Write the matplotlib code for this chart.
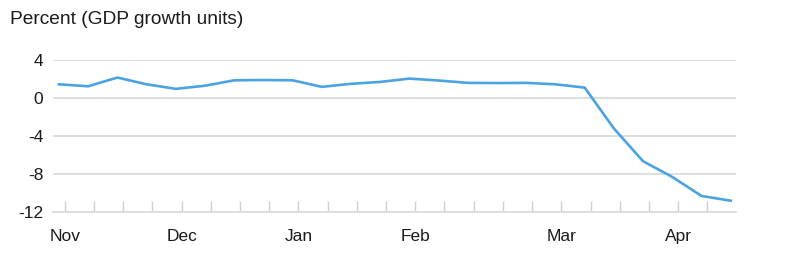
import numpy as np
import matplotlib.pyplot as plt

plt.rcParams['font.family'] = ['Liberation Sans', 'DejaVu Sans']

# weekly values (percent, GDP growth units), Nov through mid-April
semanas = np.arange(24)
valores = [1.45, 1.24, 2.16, 1.45, 0.97, 1.3, 1.87, 1.9, 1.87, 1.18, 1.5, 1.7,
           2.05, 1.85, 1.6, 1.58, 1.6, 1.45, 1.1, -3.2, -6.65, -8.3, -10.3, -10.8]

meses = ['Nov', 'Dec', 'Jan', 'Feb', 'Mar', 'Apr']
pos_meses = [0, 4, 8, 12, 17, 21]
y_ticks = [4, 0, -4, -8, -12]

fig = plt.figure(figsize=(7.86, 2.73), dpi=100)
ax = fig.add_axes([0.0674, 0.223, 0.8686, 0.557])

ax.plot(semanas, valores, color='#4ba3e3', linewidth=1.9, zorder=3)

# ejes
ax.set_ylim(-12, 4)
ax.set_xlim(-0.205, 23.17)
ax.set_yticks(y_ticks)
ax.set_yticklabels([str(v) for v in y_ticks])
ax.grid(axis='y', color='#dcdcdc', linewidth=1.3)
ax.tick_params(axis='y', length=0, pad=7, labelsize=12.5, colors='#1a1a1a')

offset = 0.2
ticks = semanas[:-1] + offset
labels = [''] * len(ticks)
for m, p in zip(meses, pos_meses):
    labels[p] = m
ax.set_xticks(ticks)
ax.set_xticklabels(labels)
ax.tick_params(axis='x', direction='in', length=8, width=1.0, color='#d0d0d0',
               pad=12, labelsize=12.5, labelcolor='#1a1a1a')

for s in ['top', 'right', 'left']:
    ax.spines[s].set_visible(False)
ax.spines['bottom'].set_color('#dcdcdc')
ax.spines['bottom'].set_linewidth(1.3)

fig.text(0.0127, 0.93, 'Percent (GDP growth units)', fontsize=13.8, color='#1a1a1a',
         va='center', ha='left')

plt.savefig('out.png', dpi=100)
